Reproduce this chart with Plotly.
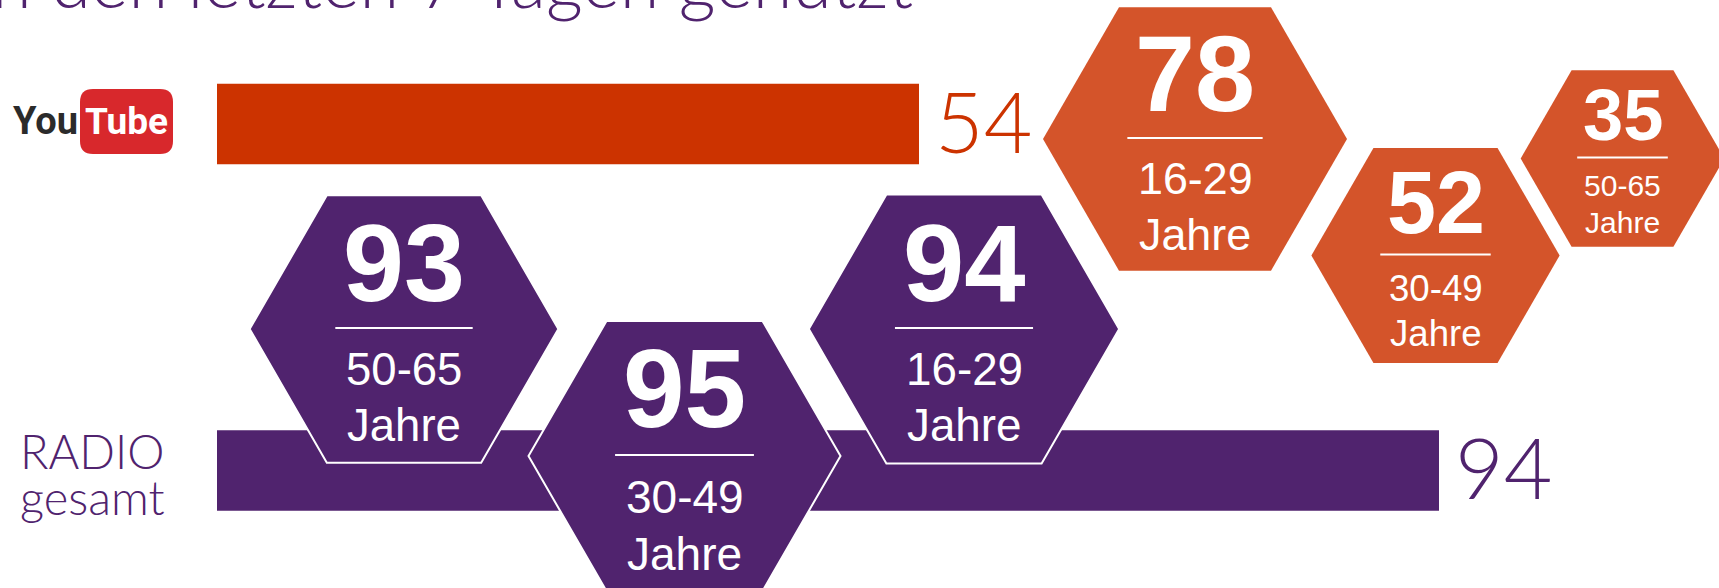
import plotly.graph_objects as go

# --- data ---
BAR_LABELS = ["YouTube", "RADIO gesamt"]
BAR_VALUES = [54, 94]

RADIO_AGES = ["50-65", "30-49", "16-29"]
RADIO_BY_AGE = [93, 95, 94]

YT_AGES = ["16-29", "30-49", "50-65"]
YT_BY_AGE = [78, 52, 35]

TITLE = "in den letzten 7 Tagen genutzt"
UNIT = "Jahre"

# --- look ---
W, H = 1719, 588
PURPLE = "#50236E"
ORANGE = "#D4542A"
RED = "#CC3300"
THIN = "Lato"
ARIAL = "Liberation Sans, Arial, sans-serif"

PX_PER_UNIT = 13.0        # bar scale
BAR_X0 = 217              # pixel where value 0 sits
BAR_CENTERS = [124, 470.5]
BAR_THICK = 80.5

# hexagon centres in pixels (free infographic layout)
RADIO_HEX_POS = [(404, 329), (684.5, 456), (964, 329)]
YT_HEX_POS = [(1195, 139), (1435.5, 255.5), (1622.5, 158.5)]
RADIO_R_MAX = 156         # circumradius of the largest purple hexagon
YT_R_MAX = 152            # circumradius of the largest orange hexagon

radio_sizeref = max(RADIO_BY_AGE) / (2 * RADIO_R_MAX ** 2)
yt_sizeref = max(YT_BY_AGE) / (2 * YT_R_MAX ** 2)

# category axis placed so the two bars land on BAR_CENTERS
gap = BAR_CENTERS[1] - BAR_CENTERS[0]
y_range = [1 + (H - BAR_CENTERS[1]) / gap, -BAR_CENTERS[0] / gap]

fig = go.Figure()

fig.add_trace(go.Bar(
    x=BAR_VALUES,
    y=BAR_LABELS,
    orientation="h",
    width=BAR_THICK / gap,
    marker=dict(color=[RED, PURPLE], line=dict(width=0)),
    hoverinfo="skip",
))


def hex_trace(values, pos, color, sizeref, outline):
    return go.Scatter(
        x=[p[0] for p in pos],
        y=[p[1] for p in pos],
        xaxis="x2", yaxis="y2",
        mode="markers",
        marker=dict(
            symbol="hexagon2",
            size=values,
            sizemode="area",
            sizeref=sizeref,
            color=color,
            opacity=1,
            line=dict(color="white", width=outline),
        ),
        hoverinfo="skip",
    )


fig.add_trace(hex_trace(RADIO_BY_AGE, RADIO_HEX_POS, PURPLE, radio_sizeref, 2))
fig.add_trace(hex_trace(YT_BY_AGE, YT_HEX_POS, ORANGE, yt_sizeref, 0))

annotations = []
shapes = []


def hex_labels(values, ages, pos, sizeref):
    for v, age, (cx, cy) in zip(values, ages, pos):
        r = (v / 2 / sizeref) ** 0.5   # same radius plotly gives the marker
        common = dict(xref="x2", yref="y2", showarrow=False,
                      xanchor="center", yanchor="middle")
        annotations.append(dict(x=cx, y=cy - 0.43 * r, text=f"<b>{v}</b>",
                                font=dict(family=ARIAL, size=0.71 * r, color="white"),
                                **common))
        annotations.append(dict(x=cx, y=cy + 0.262 * r, text=age,
                                font=dict(family=ARIAL, size=0.295 * r, color="white"),
                                **common))
        annotations.append(dict(x=cx, y=cy + 0.625 * r, text=UNIT,
                                font=dict(family=ARIAL, size=0.295 * r, color="white"),
                                **common))
        shapes.append(dict(type="line", xref="x2", yref="y2",
                           x0=cx - 0.445 * r, x1=cx + 0.445 * r, y0=cy - 1, y1=cy - 1,
                           line=dict(color="white", width=2)))


hex_labels(RADIO_BY_AGE, RADIO_AGES, RADIO_HEX_POS, radio_sizeref)
hex_labels(YT_BY_AGE, YT_AGES, YT_HEX_POS, yt_sizeref)

# value labels at bar ends
for v, lab, col in zip(BAR_VALUES, BAR_LABELS, [RED, PURPLE]):
    annotations.append(dict(
        x=v, y=lab, xref="x", yref="y", showarrow=False,
        xanchor="left", yanchor="middle", xshift=14, yshift=4,
        text=str(v), font=dict(family=THIN, weight=300, size=84, color=col),
    ))

# RADIO gesamt label
annotations.append(dict(x=92, y=451, xref="x2", yref="y2", showarrow=False,
                        text="RADIO", xanchor="center", yanchor="middle",
                        font=dict(family=THIN, weight=300, size=47, color=PURPLE)))
annotations.append(dict(x=92, y=497, xref="x2", yref="y2", showarrow=False,
                        text="gesamt", xanchor="center", yanchor="middle",
                        font=dict(family=THIN, weight=300, size=47, color=PURPLE)))

# YouTube logo
x0, x1, y0, y1, rr = 80, 173, 89, 154, 13
shapes.append(dict(
    type="path", xref="x2", yref="y2", layer="above",
    path=(f"M {x0 + rr},{y0} L {x1 - rr},{y0} Q {x1},{y0} {x1},{y0 + rr} "
          f"L {x1},{y1 - rr} Q {x1},{y1} {x1 - rr},{y1} L {x0 + rr},{y1} "
          f"Q {x0},{y1} {x0},{y1 - rr} L {x0},{y0 + rr} Q {x0},{y0} {x0 + rr},{y0} Z"),
    fillcolor="#D8282C", line=dict(width=0),
))
NARROW = "Roboto, Liberation Sans, sans-serif"
annotations.append(dict(x=45, y=121, xref="x2", yref="y2", showarrow=False,
                        text="<b>You</b>", xanchor="center", yanchor="middle",
                        font=dict(family=NARROW, size=38, color="#2B2B2B")))
annotations.append(dict(x=126.5, y=121, xref="x2", yref="y2", showarrow=False,
                        text="<b>Tube</b>", xanchor="center", yanchor="middle",
                        font=dict(family=NARROW, size=37, color="white")))

# title, mostly cut off at the top edge
annotations.append(dict(x=915 / W, y=1 + 20 / H, xref="paper", yref="paper",
                        showarrow=False, text=TITLE, xanchor="right", yanchor="middle",
                        font=dict(family=THIN, weight=300, size=72, color=PURPLE)))

fig.update_layout(
    width=W, height=H,
    margin=dict(l=0, r=0, t=0, b=0),
    paper_bgcolor="white", plot_bgcolor="white",
    showlegend=False, hovermode=False,
    xaxis=dict(range=[-BAR_X0 / PX_PER_UNIT, (W - BAR_X0) / PX_PER_UNIT],
               visible=False, fixedrange=True),
    yaxis=dict(type="category", categoryorder="array", categoryarray=BAR_LABELS,
               range=y_range, visible=False, fixedrange=True),
    xaxis2=dict(range=[0, W], overlaying="x", visible=False, fixedrange=True),
    yaxis2=dict(range=[H, 0], overlaying="y", visible=False, fixedrange=True),
    annotations=annotations,
    shapes=shapes,
)

# page body has an 8px default margin; drop it so the chart fills the window
fig.write_html("out.html", config={"displayModeBar": False},
               post_script="document.body.style.margin='0';")
